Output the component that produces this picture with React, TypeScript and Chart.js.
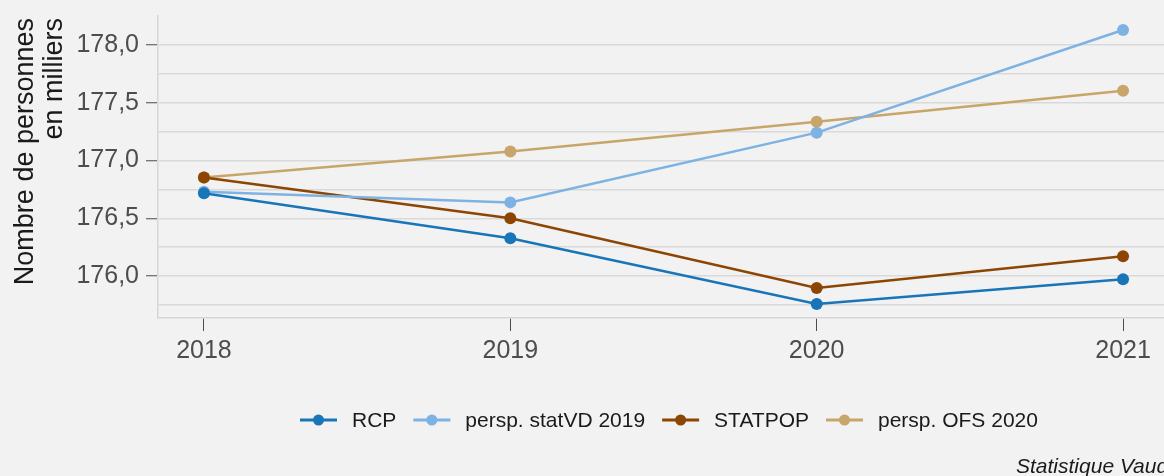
import React, { useEffect, useRef } from "react";
import { Chart, registerables } from "chart.js";

Chart.register(...registerables);

const years = [2018, 2019, 2020, 2021];
const rcp = [176.716, 176.328, 175.759, 175.974];
const statVD2019 = [176.73, 176.638, 177.241, 178.129];
const statpop = [176.853, 176.5, 175.897, 176.172];
const ofs2020 = [176.853, 177.078, 177.336, 177.603];

const seriesNames = ["RCP", "persp. statVD 2019", "STATPOP", "persp. OFS 2020"];
const seriesColors = ["#1775b8", "#7db2e2", "#8c4502", "#c8a56a"];
const seriesValues = [rcp, statVD2019, statpop, ofs2020];

const yTickValues = [175.75, 176.0, 176.25, 176.5, 176.75, 177.0, 177.25, 177.5, 177.75, 178.0];
const yMin = 175.638;
const yMax = 178.25;
const xMin = 2017.85;
const xMax = 2021.15;

const yTitleLines = ["Nombre de personnes", "en milliers"];
const caption = "Statistique Vaud";

const BG = "#f2f2f2";
const FONT = "'Liberation Sans', Arial, sans-serif";

const isMajor = (v: number) => Math.abs(v * 2 - Math.round(v * 2)) < 1e-6;

const decorPlugin = {
  id: "decor",
  beforeDraw(chart: any) {
    const { ctx, width, height } = chart;
    ctx.save();
    ctx.fillStyle = BG;
    ctx.fillRect(0, 0, width, height);
    ctx.restore();
  },
  afterDraw(chart: any) {
    const { ctx } = chart;
    ctx.save();
    // Y title
    ctx.fillStyle = "#1a1a1a";
    ctx.font = `27px ${FONT}`;
    ctx.textAlign = "right";
    ctx.textBaseline = "alphabetic";
    const baselines = [33, 62];
    yTitleLines.forEach((line, i) => {
      ctx.save();
      ctx.translate(baselines[i], 18);
      ctx.rotate(-Math.PI / 2);
      ctx.fillText(line, 0, 0);
      ctx.restore();
    });

    // Legend
    let x = 300;
    const ly = 420;
    ctx.font = `21px ${FONT}`;
    ctx.textAlign = "left";
    ctx.textBaseline = "middle";
    seriesNames.forEach((name, i) => {
      ctx.strokeStyle = seriesColors[i];
      ctx.lineWidth = 3;
      ctx.beginPath();
      ctx.moveTo(x, ly);
      ctx.lineTo(x + 37, ly);
      ctx.stroke();
      ctx.fillStyle = seriesColors[i];
      ctx.beginPath();
      ctx.arc(x + 18.5, ly, 5.5, 0, Math.PI * 2);
      ctx.fill();
      ctx.fillStyle = "#1a1a1a";
      const tx = x + 52;
      ctx.fillText(name, tx, ly + 1);
      x = tx + ctx.measureText(name).width + 17;
    });

    // Caption
    ctx.font = `italic 21px ${FONT}`;
    ctx.fillStyle = "#1a1a1a";
    ctx.textAlign = "left";
    ctx.textBaseline = "alphabetic";
    ctx.fillText(caption, 1016, 473);
    ctx.restore();
  },
};

export default function App() {
  const canvasRef = useRef<HTMLCanvasElement | null>(null);

  useEffect(() => {
    const canvas = canvasRef.current;
    if (!canvas) return;
    const chart = new Chart(canvas, {
      type: "line",
      data: {
        datasets: seriesNames.map((name, i) => ({
          label: name,
          data: years.map((yr, j) => ({ x: yr, y: seriesValues[i][j] })),
          borderColor: seriesColors[i],
          backgroundColor: seriesColors[i],
          pointBackgroundColor: seriesColors[i],
          pointBorderColor: seriesColors[i],
          pointRadius: 6,
          pointBorderWidth: 0,
          borderWidth: 2.5,
          tension: 0,
        })),
      },
      options: {
        animation: false,
        responsive: false,
        layout: { padding: { top: 16, right: 31, left: 0, bottom: 0 } },
        plugins: {
          legend: { display: false },
          tooltip: { enabled: false },
        },
        scales: {
          x: {
            type: "linear",
            min: xMin,
            max: xMax,
            afterBuildTicks: (scale: any) => {
              scale.ticks = years.map((v) => ({ value: v }));
            },
            afterFit: (scale: any) => {
              scale.height = 158;
              scale.paddingLeft = 0;
              scale.paddingRight = 0;
            },
            grid: {
              drawOnChartArea: false,
              drawTicks: true,
              tickLength: 13,
              tickColor: "#4d4d4d",
              tickWidth: 1,
            },
            border: { display: true, color: "#d6d6d6", width: 1.5 },
            ticks: {
              color: "#4d4d4d",
              font: { family: FONT, size: 25 },
              padding: 5,
              maxRotation: 0,
              autoSkip: false,
              callback: (v: any) => String(v),
            },
          },
          y: {
            type: "linear",
            min: yMin,
            max: yMax,
            afterBuildTicks: (scale: any) => {
              scale.ticks = yTickValues.map((v) => ({ value: v }));
            },
            afterFit: (scale: any) => {
              scale.width = 158;
              scale.paddingTop = 0;
              scale.paddingBottom = 0;
            },
            grid: {
              color: "#d9d9d9",
              lineWidth: 1.5,
              drawTicks: true,
              tickLength: 12,
              tickWidth: 1,
              tickColor: (ctx: any) =>
                ctx.tick && isMajor(ctx.tick.value) ? "#4d4d4d" : "rgba(0,0,0,0)",
            },
            border: { display: true, color: "#d6d6d6", width: 1.5 },
            ticks: {
              color: "#4d4d4d",
              font: { family: FONT, size: 25 },
              padding: 7,
              autoSkip: false,
              callback: (v: any) =>
                isMajor(Number(v)) ? Number(v).toFixed(1).replace(".", ",") : "",
            },
          },
        },
      },
      plugins: [decorPlugin],
    });
    return () => chart.destroy();
  }, []);

  return (
    <div
      style={{
        position: "fixed",
        left: 0,
        top: 0,
        width: 1200,
        height: 476,
        background: BG,
        overflow: "hidden",
      }}
    >
      <canvas ref={canvasRef} width={1200} height={476} style={{ display: "block" }} />
    </div>
  );
}
